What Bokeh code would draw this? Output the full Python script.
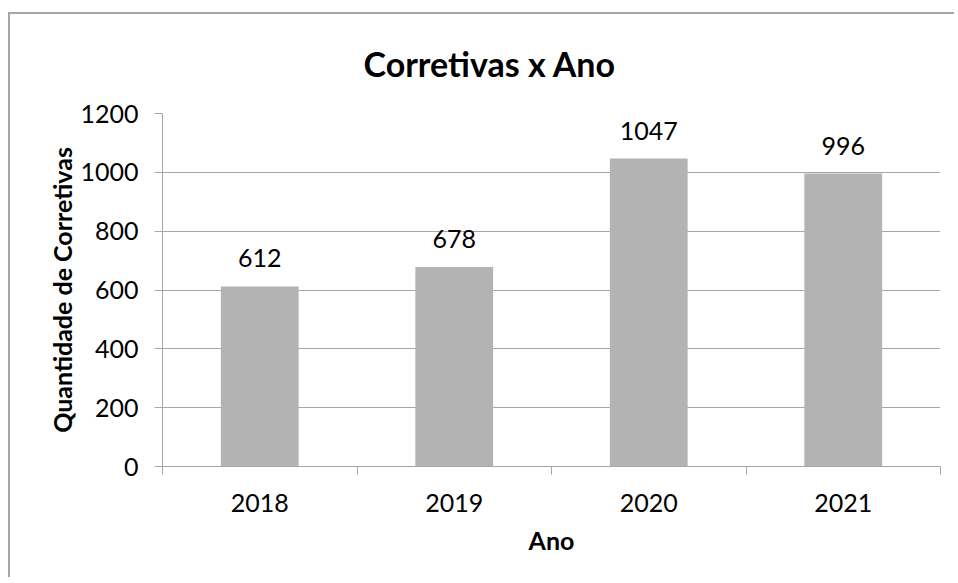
from bokeh.plotting import figure
from bokeh.models import FixedTicker, Title
from bokeh.core.properties import value
from bokeh.embed import file_html
from bokeh.resources import INLINE

years = ["2018", "2019", "2020", "2021"]
counts = [612, 678, 1047, 996]
y_ticks = [0, 200, 400, 600, 800, 1000, 1200]
title_text = "Corretivas x Ano"

FONT = "Lato"
GRAY_LINE = "#A6A6A6"
BAR = "#B3B3B3"

n = len(years)
xc = [i + 0.5 for i in range(n)]

p = figure(width=946, height=565, x_range=(0, n), y_range=(0, 1200),
           output_backend="svg", toolbar_location=None,
           min_border_left=152, min_border_right=16,
           min_border_top=99, min_border_bottom=113)
p.title = None
p.styles = {"border-left": "2px solid #A6A6A6", "border-top": "2px solid #A6A6A6",
            "margin-top": "12px", "margin-left": "8px"}
p.outline_line_color = None
p.background_fill_color = "white"
p.border_fill_color = "white"

p.vbar(x=xc, top=counts, width=0.4, fill_color=BAR, line_color=None)
p.text(x=xc, y=counts, text=[str(c) for c in counts], text_align="center",
       text_baseline="alphabetic", y_offset=-28, text_font=value(FONT),
       text_font_size="25px", text_color="black")

t = Title(text=title_text, align="left", offset=201, vertical_align="top",
          text_font=FONT, text_font_size="34px", text_font_style="bold",
          text_color="black", standoff=55)
p.add_layout(t, "above")

# x axis
xa = p.xaxis[0]
xa.ticker = FixedTicker(ticks=xc, minor_ticks=list(range(n + 1)))
xa.major_label_overrides = {x: y for x, y in zip(xc, years)}
xa.major_tick_out = 0
xa.major_tick_in = 0
xa.minor_tick_out = 8
xa.minor_tick_in = 0
xa.minor_tick_line_color = GRAY_LINE
xa.axis_line_color = GRAY_LINE
xa.major_label_text_font = FONT
xa.major_label_text_font_size = "25px"
xa.major_label_text_color = "black"
xa.major_label_standoff = 19
xa.axis_label = "Ano"
xa.axis_label_text_font = FONT
xa.axis_label_text_font_size = "25px"
xa.axis_label_text_font_style = "bold"
xa.axis_label_text_color = "black"
xa.axis_label_standoff = 10

ya = p.yaxis[0]
ya.ticker = FixedTicker(ticks=y_ticks)
ya.major_tick_out = 8
ya.major_tick_in = 0
ya.major_tick_line_color = GRAY_LINE
ya.minor_tick_line_color = None
ya.axis_line_color = GRAY_LINE
ya.major_label_text_font = FONT
ya.major_label_text_font_size = "25px"
ya.major_label_text_color = "black"
ya.major_label_standoff = 16
ya.axis_label = "Quantidade de Corretivas"
ya.axis_label_text_font = FONT
ya.axis_label_text_font_size = "25px"
ya.axis_label_text_font_style = "bold"
ya.axis_label_text_color = "black"
ya.axis_label_standoff = 0

p.xgrid.grid_line_color = None
p.ygrid.grid_line_color = GRAY_LINE
p.ygrid.ticker = FixedTicker(ticks=y_ticks)

open("out.html", "w").write(file_html(p, INLINE))
